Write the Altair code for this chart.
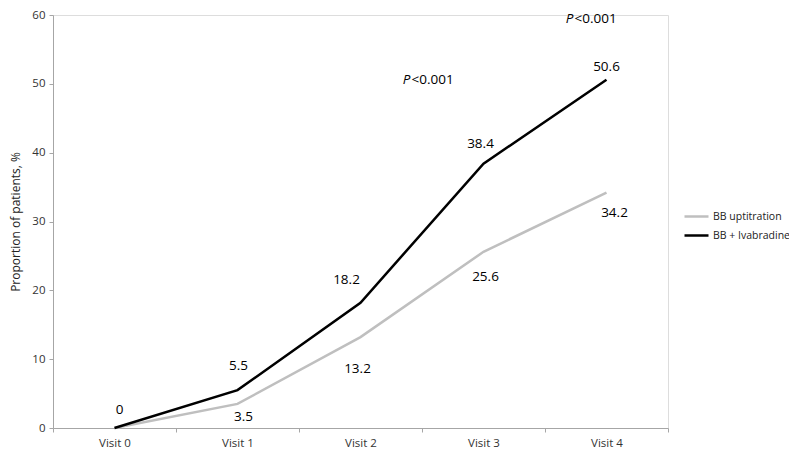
import altair as alt
import pandas as pd

# ---- data ----
visits = ["Visit 0", "Visit 1", "Visit 2", "Visit 3", "Visit 4"]
bb_uptitration = [0, 3.5, 13.2, 25.6, 34.2]
bb_ivabradine = [0, 5.5, 18.2, 38.4, 50.6]
series_names = ["BB uptitration", "BB + Ivabradine"]
series_colors = ["#bfbfbf", "#000000"]

# annotation texts
p_label_visits = ["Visit 2", "Visit 4"]
p_label_values = [50.5, 59.4]

# ---- label placement (pixel offsets, styling only) ----
ivab_label_dx = [5, 1, -14, -3, 0]
ivab_label_dy = [-18, -24, -23, -20, -13]
upt_label_dx = [0, 6, -3, 2, 8]
upt_label_dy = [0, 13, 32, 25, 20]
upt_label_show = [False, True, True, True, True]
p_label_dx = [50, -33]

FONT = "Open Sans"

rows = []
for v, a, b in zip(visits, bb_uptitration, bb_ivabradine):
    rows.append({"visit": v, "series": series_names[0], "value": a})
    rows.append({"visit": v, "series": series_names[1], "value": b})
df = pd.DataFrame(rows)

x_enc = alt.X(
    "visit:N",
    sort=visits,
    scale=alt.Scale(type="band", domain=visits, paddingInner=0, paddingOuter=0),
    axis=alt.Axis(
        title=None, labelAngle=0, tickBand="extent", grid=False,
        domainColor="#a6a6a6", tickColor="#a6a6a6", tickSize=4,
        labelPadding=5, labelFont=FONT, labelFontSize=11.5, labelColor="#333333",
    ),
)
y_enc = alt.Y(
    "value:Q",
    scale=alt.Scale(domain=[0, 60], nice=False),
    axis=alt.Axis(
        title="Proportion of patients, %", values=[0, 10, 20, 30, 40, 50, 60],
        grid=False, domainColor="#a6a6a6", tickColor="#a6a6a6", tickSize=4,
        labelPadding=4, labelFont=FONT, labelFontSize=11.5, labelColor="#333333",
        titleFont=FONT, titleFontSize=12, titleFontWeight="normal",
        titleColor="#222222", titlePadding=9,
    ),
)
color_enc = alt.Color(
    "series:N",
    scale=alt.Scale(domain=series_names, range=series_colors),
    legend=alt.Legend(
        title=None, orient="none", legendX=630, legendY=188,
        symbolType="stroke", symbolStrokeWidth=2.5, symbolSize=576,
        labelFont=FONT, labelFontSize=10.5, labelColor="#222222",
        labelOffset=3, rowPadding=0, padding=0,
    ),
)

lines = alt.Chart(df).mark_line(strokeWidth=2.5).encode(
    x=x_enc, y=y_enc, color=color_enc, order=alt.Order("visit:N")
)

layers = [lines]
for i, v in enumerate(visits):
    layers.append(
        alt.Chart(df)
        .transform_filter((alt.datum.visit == v) & (alt.datum.series == series_names[1]))
        .mark_text(font=FONT, fontSize=13.5, color="#000000",
                   dx=ivab_label_dx[i], dy=ivab_label_dy[i])
        .encode(x=alt.X("visit:N", sort=visits), y="value:Q",
                text=alt.Text("value:Q", format=".1~f"))
    )
    if upt_label_show[i]:
        layers.append(
            alt.Chart(df)
            .transform_filter((alt.datum.visit == v) & (alt.datum.series == series_names[0]))
            .mark_text(font=FONT, fontSize=13.5, color="#000000",
                       dx=upt_label_dx[i], dy=upt_label_dy[i])
            .encode(x=alt.X("visit:N", sort=visits), y="value:Q",
                    text=alt.Text("value:Q", format=".1~f"))
        )

pdf = pd.DataFrame({"visit": p_label_visits, "value": p_label_values})
for i in range(len(p_label_visits)):
    sub = pdf.iloc[[i]]
    layers.append(
        alt.Chart(sub).mark_text(text="P", fontStyle="italic", align="right",
                                 font=FONT, fontSize=13.5, color="#000000",
                                 dx=p_label_dx[i])
        .encode(x=alt.X("visit:N", sort=visits), y="value:Q")
    )
    layers.append(
        alt.Chart(sub).mark_text(text="<0.001", align="left",
                                 font=FONT, fontSize=13.5, color="#000000",
                                 dx=p_label_dx[i] + 1)
        .encode(x=alt.X("visit:N", sort=visits), y="value:Q")
    )

chart = (
    alt.layer(*layers)
    .properties(
        width=615, height=413,
        padding={"top": 7, "left": 45, "right": 121, "bottom": 22},
        autosize=alt.AutoSizeParams(type="none"),
    )
    .configure_view(stroke=None)
    .configure(background="white")
)

chart.save("out.html", embed_options={"renderer": "svg", "actions": False})
